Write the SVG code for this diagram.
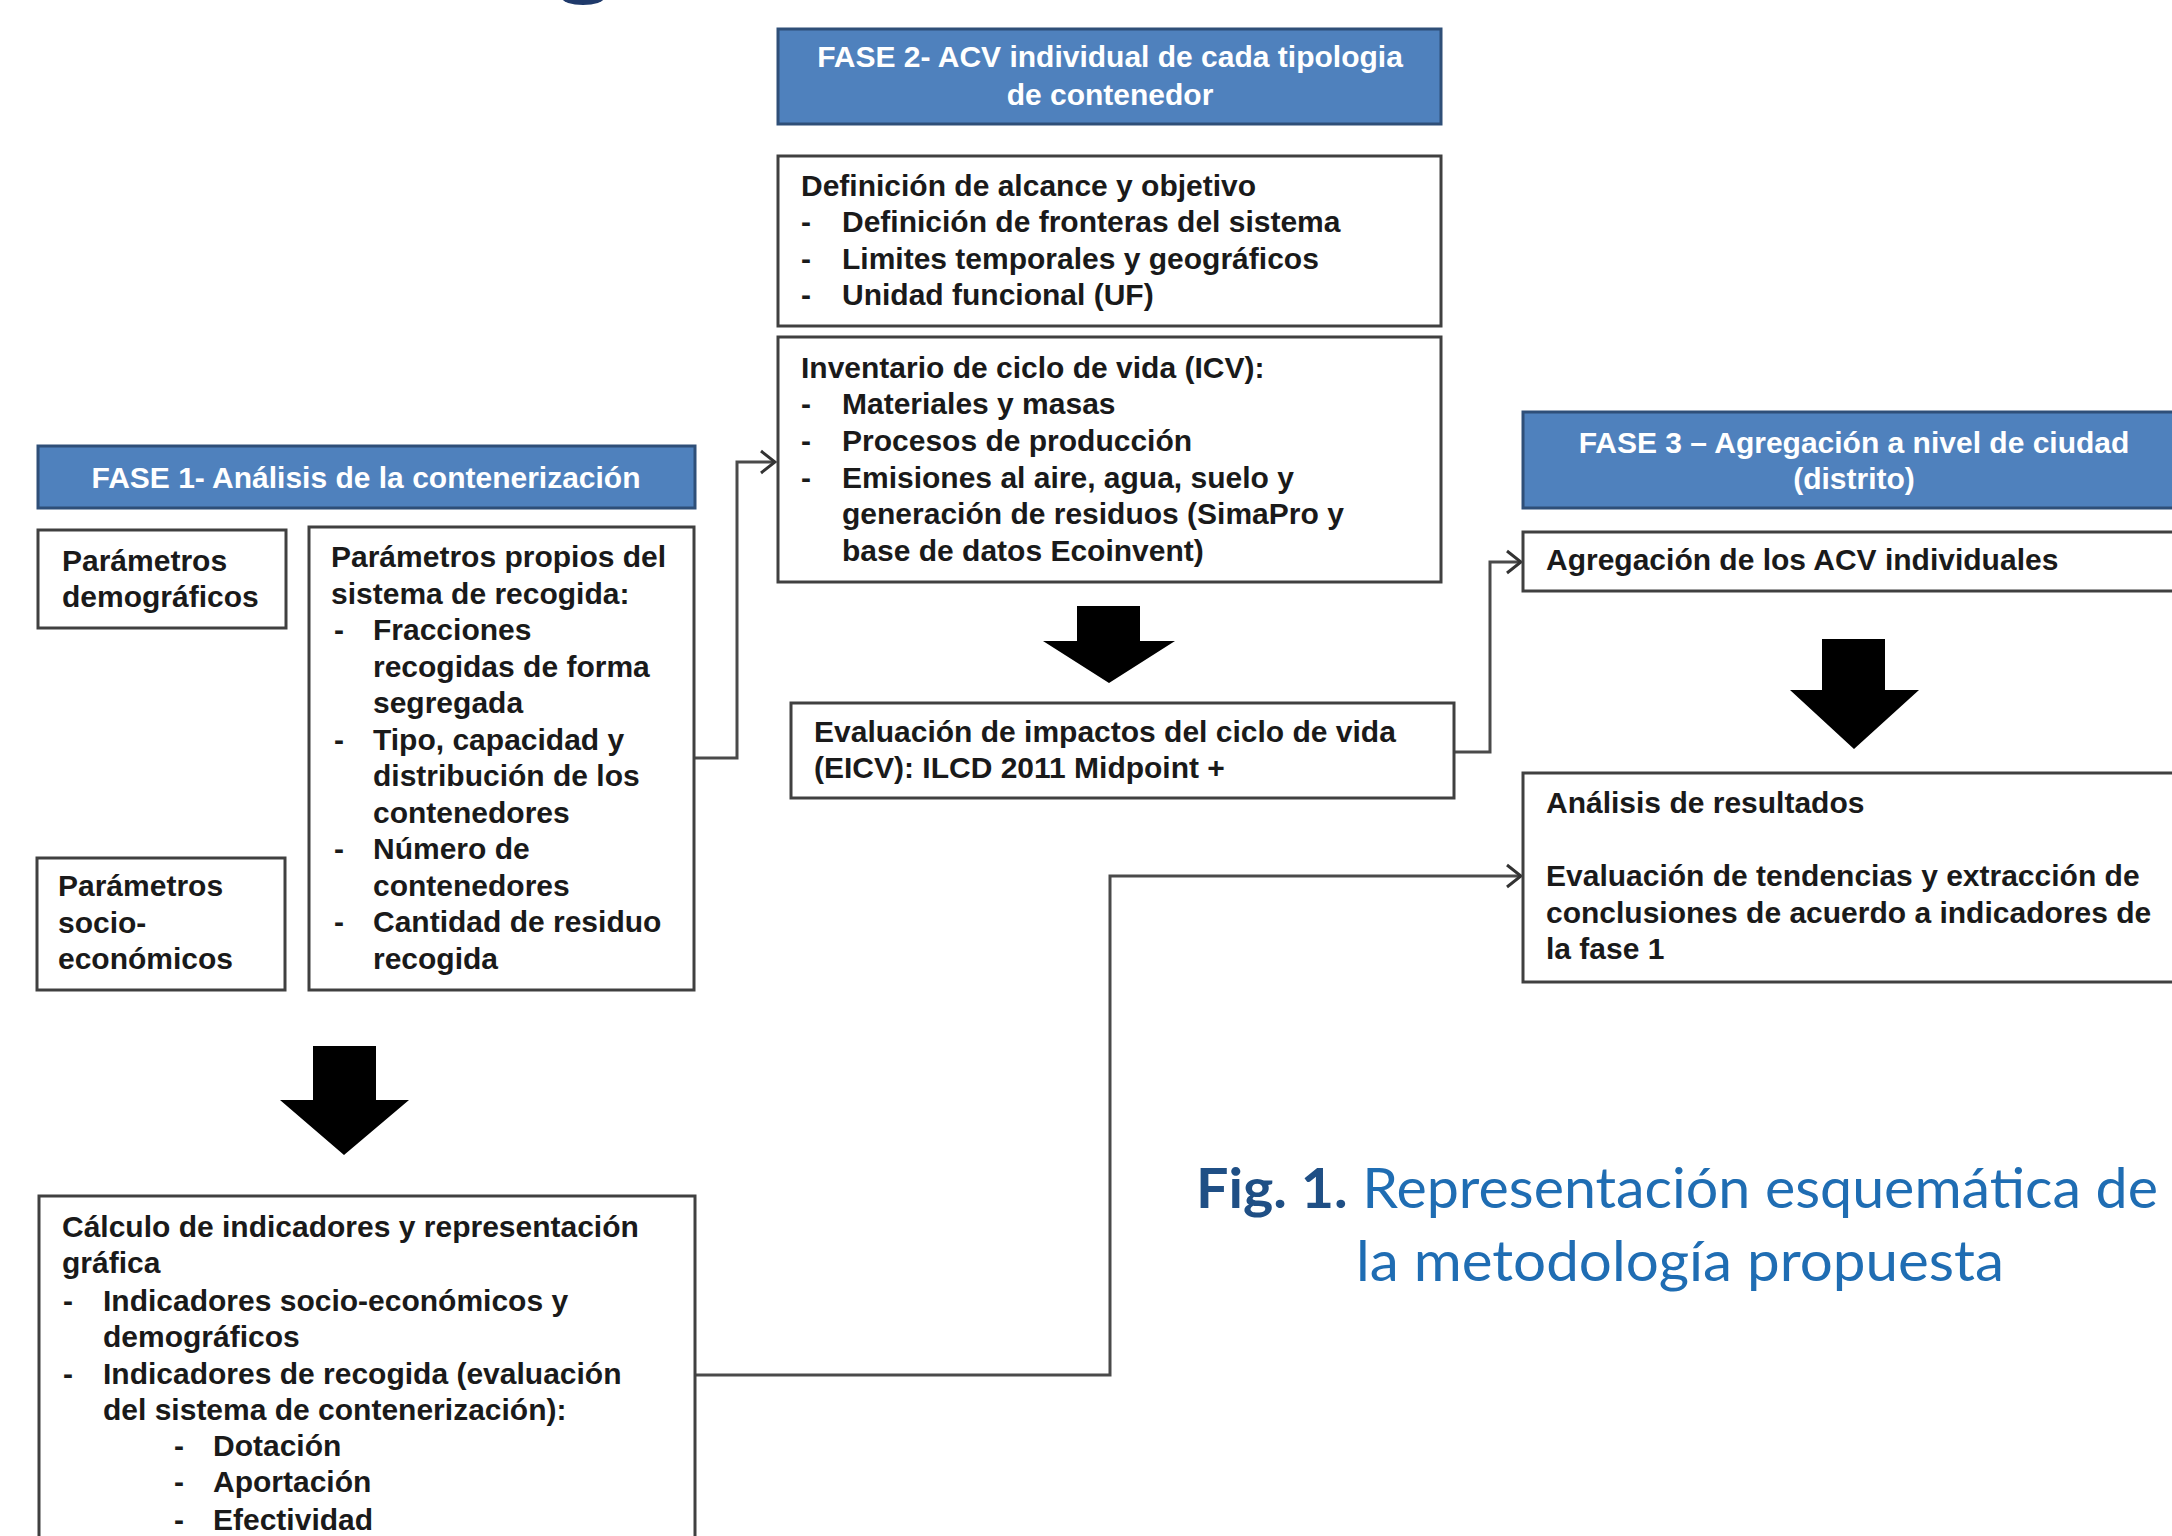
<svg xmlns="http://www.w3.org/2000/svg" width="2172" height="1536" viewBox="0 0 2172 1536">
<defs>
<style>
.hdr{fill:#4f81bd;stroke:#2f4f78;stroke-width:3}
.box{fill:#ffffff;stroke:#404040;stroke-width:3}
.ht{font-family:"Liberation Sans",Arial,sans-serif;font-weight:bold;font-size:30px;fill:#ffffff;text-anchor:middle}
.t{font-family:"Liberation Sans",Arial,sans-serif;font-weight:bold;font-size:30px;fill:#1a1a1a}
.big{fill:#000000}
.con{fill:none;stroke:#4a4a4a;stroke-width:3}
.cap{font-family:Lato,"Open Sans",sans-serif;font-size:56px;fill:#1f6db3;text-anchor:middle}
</style>
<marker id="arr" viewBox="-16 -13 18 26" refX="0" refY="0" markerWidth="18" markerHeight="26" markerUnits="userSpaceOnUse" orient="auto">
<path d="M-14,-11 L0,0 L-14,11" fill="none" stroke="#333333" stroke-width="3"/>
</marker>
</defs>
<rect width="2172" height="1536" fill="#ffffff"/>
<ellipse cx="583" cy="-2" rx="21" ry="7" fill="#1f3a6b"/>

<g id="connectors">
<polyline class="con" points="694,758 737,758 737,462 775,462" marker-end="url(#arr)"/>
<polyline class="con" points="1454,752 1490,752 1490,562 1521,562" marker-end="url(#arr)"/>
<polyline class="con" points="695,1375 1110,1375 1110,876 1521,876" marker-end="url(#arr)"/>
<polygon class="big" points="313,1046 376,1046 376,1100 409,1100 344,1155 280,1100 313,1100"/>
<polygon class="big" points="1077,606 1140,606 1140,641 1175,641 1109,683 1043,641 1077,641"/>
<polygon class="big" points="1822,639 1885,639 1885,690 1919,690 1854,749 1790,690 1822,690"/>
</g>

<g id="fase1-header">
<rect class="hdr" x="38" y="446" width="657" height="62"/>
<text class="ht" x="366" y="488">FASE 1- Análisis de la contenerización</text>
</g>

<g id="param-demograficos">
<rect class="box" x="38" y="530" width="248" height="98"/>
<text class="t" x="62" y="571">Parámetros</text>
<text class="t" x="62" y="607">demográficos</text>
</g>

<g id="param-propios">
<rect class="box" x="309" y="527" width="385" height="463"/>
<text class="t" x="331" y="567">Parámetros propios del</text>
<text class="t" x="331" y="604">sistema de recogida:</text>
<text class="t" x="334" y="640">-</text><text class="t" x="373" y="640">Fracciones</text>
<text class="t" x="373" y="677">recogidas de forma</text>
<text class="t" x="373" y="713">segregada</text>
<text class="t" x="334" y="750">-</text><text class="t" x="373" y="750">Tipo, capacidad y</text>
<text class="t" x="373" y="786">distribución de los</text>
<text class="t" x="373" y="823">contenedores</text>
<text class="t" x="334" y="859">-</text><text class="t" x="373" y="859">Número de</text>
<text class="t" x="373" y="896">contenedores</text>
<text class="t" x="334" y="932">-</text><text class="t" x="373" y="932">Cantidad de residuo</text>
<text class="t" x="373" y="969">recogida</text>
</g>

<g id="param-socio">
<rect class="box" x="37" y="858" width="248" height="132"/>
<text class="t" x="58" y="896">Parámetros</text>
<text class="t" x="58" y="933">socio-</text>
<text class="t" x="58" y="969">económicos</text>
</g>

<g id="calculo">
<rect class="box" x="39" y="1196" width="656" height="380"/>
<text class="t" x="62" y="1237">Cálculo de indicadores y representación</text>
<text class="t" x="62" y="1273">gráfica</text>
<text class="t" x="63" y="1311">-</text><text class="t" x="103" y="1311">Indicadores socio-económicos y</text>
<text class="t" x="103" y="1347">demográficos</text>
<text class="t" x="63" y="1384">-</text><text class="t" x="103" y="1384">Indicadores de recogida (evaluación</text>
<text class="t" x="103" y="1420">del sistema de contenerización):</text>
<text class="t" x="174" y="1456">-</text><text class="t" x="213" y="1456">Dotación</text>
<text class="t" x="174" y="1492">-</text><text class="t" x="213" y="1492">Aportación</text>
<text class="t" x="174" y="1530">-</text><text class="t" x="213" y="1530">Efectividad</text>
</g>

<g id="fase2-header">
<rect class="hdr" x="778" y="29" width="663" height="95"/>
<text class="ht" x="1110" y="67">FASE 2- ACV individual de cada tipologia</text>
<text class="ht" x="1110" y="105">de contenedor</text>
</g>

<g id="definicion">
<rect class="box" x="778" y="156" width="663" height="170"/>
<text class="t" x="801" y="196">Definición de alcance y objetivo</text>
<text class="t" x="801" y="232">-</text><text class="t" x="842" y="232">Definición de fronteras del sistema</text>
<text class="t" x="801" y="269">-</text><text class="t" x="842" y="269">Limites temporales y geográficos</text>
<text class="t" x="801" y="305">-</text><text class="t" x="842" y="305">Unidad funcional (UF)</text>
</g>

<g id="inventario">
<rect class="box" x="778" y="337" width="663" height="245"/>
<text class="t" x="801" y="378">Inventario de ciclo de vida (ICV):</text>
<text class="t" x="801" y="414">-</text><text class="t" x="842" y="414">Materiales y masas</text>
<text class="t" x="801" y="451">-</text><text class="t" x="842" y="451">Procesos de producción</text>
<text class="t" x="801" y="488">-</text><text class="t" x="842" y="488">Emisiones al aire, agua, suelo y</text>
<text class="t" x="842" y="524">generación de residuos (SimaPro y</text>
<text class="t" x="842" y="561">base de datos Ecoinvent)</text>
</g>

<g id="eicv">
<rect class="box" x="791" y="703" width="663" height="95"/>
<text class="t" x="814" y="742">Evaluación de impactos del ciclo de vida</text>
<text class="t" x="814" y="778">(EICV): ILCD 2011 Midpoint +</text>
</g>

<g id="fase3-header">
<rect class="hdr" x="1523" y="412" width="663" height="96"/>
<text class="ht" x="1854" y="453">FASE 3 – Agregación a nivel de ciudad</text>
<text class="ht" x="1854" y="489">(distrito)</text>
</g>

<g id="agregacion">
<rect class="box" x="1523" y="532" width="663" height="59"/>
<text class="t" x="1546" y="570">Agregación de los ACV individuales</text>
</g>

<g id="analisis">
<rect class="box" x="1523" y="773" width="663" height="209"/>
<text class="t" x="1546" y="813">Análisis de resultados</text>
<text class="t" x="1546" y="886">Evaluación de tendencias y extracción de</text>
<text class="t" x="1546" y="923">conclusiones de acuerdo a indicadores de</text>
<text class="t" x="1546" y="959">la fase 1</text>
</g>

<g id="caption">
<text class="cap" x="1677" y="1208" textLength="962" lengthAdjust="spacingAndGlyphs"><tspan font-weight="bold" fill="#1f4f85">Fig. 1.</tspan> Representación esquemática de</text>
<text class="cap" x="1680" y="1281" textLength="648" lengthAdjust="spacingAndGlyphs">la metodología propuesta</text>
</g>
</svg>
